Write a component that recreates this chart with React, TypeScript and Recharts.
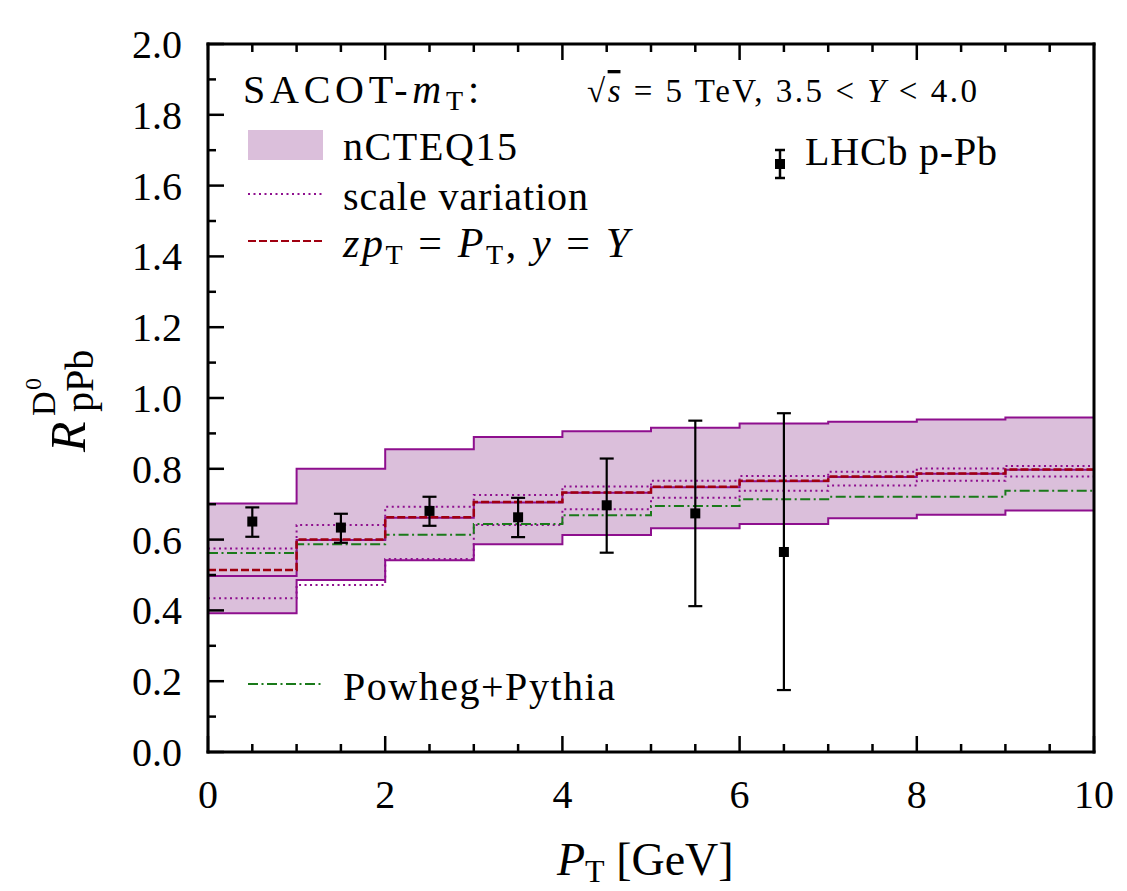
import React from 'react';
import { ComposedChart, Area, Line, Scatter, ErrorBar, XAxis, YAxis } from 'recharts';

// bin edges in P_T (GeV); each value below holds for [edge, edge+1)
const binEdges = [0, 1, 2, 3, 4, 5, 6, 7, 8, 9, 10];
const bandLow = [0.392, 0.486, 0.542, 0.587, 0.613, 0.632, 0.644, 0.66, 0.67, 0.682];
const bandHigh = [0.702, 0.8, 0.855, 0.89, 0.906, 0.916, 0.928, 0.933, 0.939, 0.945];
const central = [0.497, 0.599, 0.662, 0.705, 0.732, 0.748, 0.765, 0.777, 0.786, 0.797];
const fixedScale = [0.514, 0.6, 0.663, 0.706, 0.733, 0.749, 0.766, 0.778, 0.787, 0.798];
const scaleUp = [0.575, 0.641, 0.693, 0.726, 0.75, 0.766, 0.78, 0.792, 0.801, 0.808];
const scaleDown = [0.434, 0.472, 0.545, 0.641, 0.686, 0.718, 0.738, 0.753, 0.766, 0.778];
const powheg = [0.562, 0.587, 0.614, 0.644, 0.669, 0.695, 0.714, 0.721, 0.721, 0.738];

// LHCb p-Pb points
const lhcbX = [0.5, 1.5, 2.5, 3.5, 4.5, 5.5, 6.5];
const lhcbY = [0.651, 0.634, 0.681, 0.663, 0.697, 0.674, 0.565];
const lhcbUp = [0.691, 0.673, 0.721, 0.718, 0.829, 0.936, 0.957];
const lhcbDown = [0.608, 0.591, 0.639, 0.607, 0.563, 0.412, 0.175];

const xTicks = [0, 0.5, 1, 1.5, 2, 2.5, 3, 3.5, 4, 4.5, 5, 5.5, 6, 6.5, 7, 7.5, 8, 8.5, 9, 9.5, 10];
const yTicks = [0, 0.1, 0.2, 0.3, 0.4, 0.5, 0.6, 0.7, 0.8, 0.9, 1.0, 1.1, 1.2, 1.3, 1.4, 1.5, 1.6, 1.7, 1.8, 1.9, 2.0];

const last = bandLow.length - 1;
const stepRows = binEdges.map((x, i) => {
  const j = Math.min(i, last);
  return {
    x,
    band: [bandLow[j], bandHigh[j]],
    central: central[j],
    fixedScale: fixedScale[j],
    scaleUp: scaleUp[j],
    scaleDown: scaleDown[j],
    powheg: powheg[j],
  };
});

const lhcbRows = lhcbX.map((x, i) => ({
  x,
  y: lhcbY[i],
  err: [lhcbY[i] - lhcbDown[i], lhcbUp[i] - lhcbY[i]],
}));

const FONT = "'Liberation Serif', 'DejaVu Serif', serif";
const PURPLE = '#8e0f8e';
const BAND = '#dbbfdb';
const RED = '#a00010';
const GREEN = '#1a7a1a';

const isMajorX = (v: number) => Math.abs(v / 2 - Math.round(v / 2)) < 1e-6;
const isMajorY = (v: number) => Math.abs(v * 5 - Math.round(v * 5)) < 1e-6;

const BottomTick = (props: any) => {
  const { x, y, payload } = props;
  const v = payload.value;
  const major = isMajorX(v);
  return (
    <g>
      <line x1={x} x2={x} y1={y} y2={y - (major ? 16 : 8)} stroke="#000" strokeWidth={2.5} />
      {major && (
        <text x={x} y={y + 56} textAnchor="middle" style={{ fontFamily: FONT, fontSize: 40 }} fill="#000">
          {v}
        </text>
      )}
    </g>
  );
};

const TopTick = (props: any) => {
  const { x, y, payload } = props;
  const major = isMajorX(payload.value);
  return <line x1={x} x2={x} y1={y} y2={y + (major ? 16 : 8)} stroke="#000" strokeWidth={2.5} />;
};

const LeftTick = (props: any) => {
  const { x, y, payload } = props;
  const v = payload.value;
  const major = isMajorY(v);
  return (
    <g>
      <line x1={x} x2={x + (major ? 16 : 8)} y1={y} y2={y} stroke="#000" strokeWidth={2.5} />
      {major && (
        <text x={x - 26} y={y + 14} textAnchor="end" style={{ fontFamily: FONT, fontSize: 40 }} fill="#000">
          {v.toFixed(1)}
        </text>
      )}
    </g>
  );
};

const RightTick = (props: any) => {
  const { x, y, payload } = props;
  const major = isMajorY(payload.value);
  return <line x1={x} x2={x - (major ? 16 : 8)} y1={y} y2={y} stroke="#000" strokeWidth={2.5} />;
};

const Square = (p: any) => <rect x={p.cx - 5} y={p.cy - 5} width={10} height={10} fill="#000" />;

const axisLine = { stroke: '#000', strokeWidth: 3, strokeLinecap: 'square' as const };

export default function App() {
  return (
    <div style={{ position: 'relative', width: 1111, height: 875, fontFamily: FONT }}>
      <ComposedChart
        width={1111}
        height={875}
        data={stepRows}
        margin={{ top: 35, right: 24, bottom: 51, left: 80 }}
      >
        <XAxis
          dataKey="x"
          type="number"
          domain={[0, 10]}
          ticks={xTicks}
          interval={0}
          height={80}
          tickSize={0}
          tickMargin={0}
          tickLine={false}
          axisLine={axisLine}
          tick={<BottomTick />}
        />
        <XAxis
          xAxisId="top"
          orientation="top"
          dataKey="x"
          type="number"
          domain={[0, 10]}
          ticks={xTicks}
          interval={0}
          height={1}
          tickSize={0}
          tickMargin={0}
          tickLine={false}
          axisLine={axisLine}
          tick={<TopTick />}
        />
        <YAxis
          type="number"
          domain={[0, 2]}
          ticks={yTicks}
          interval={0}
          width={120}
          tickSize={0}
          tickMargin={0}
          tickLine={false}
          axisLine={axisLine}
          tick={<LeftTick />}
        />
        <YAxis
          yAxisId="right"
          orientation="right"
          type="number"
          domain={[0, 2]}
          ticks={yTicks}
          interval={0}
          width={1}
          tickSize={0}
          tickMargin={0}
          tickLine={false}
          axisLine={axisLine}
          tick={<RightTick />}
        />
        <Area
          type="stepAfter"
          dataKey="band"
          stroke={PURPLE}
          strokeWidth={2}
          fill={BAND}
          fillOpacity={1}
          isAnimationActive={false}
          activeDot={false}
        />
        <Line type="stepAfter" dataKey="scaleUp" stroke={PURPLE} strokeWidth={2} strokeDasharray="2 3.5" dot={false} isAnimationActive={false} />
        <Line type="stepAfter" dataKey="scaleDown" stroke={PURPLE} strokeWidth={2} strokeDasharray="2 3.5" dot={false} isAnimationActive={false} />
        <Line type="stepAfter" dataKey="powheg" stroke={GREEN} strokeWidth={2} strokeDasharray="10 3.5 2 3.5" dot={false} isAnimationActive={false} />
        <Line type="stepAfter" dataKey="central" stroke={PURPLE} strokeWidth={2} dot={false} isAnimationActive={false} />
        <Line type="stepAfter" dataKey="fixedScale" stroke={RED} strokeWidth={2.5} strokeDasharray="8 3" dot={false} isAnimationActive={false} />
        <Scatter data={lhcbRows} dataKey="y" shape={<Square />} isAnimationActive={false}>
          <ErrorBar dataKey="err" direction="y" width={7} stroke="#000" strokeWidth={2.2} isAnimationActive={false} />
        </Scatter>
      </ComposedChart>

      <svg
        width={1111}
        height={883}
        style={{ position: 'absolute', left: 0, top: 0, overflow: 'visible', pointerEvents: 'none', fontFamily: FONT }}
        fill="#000"
      >
        {/* legend, upper left */}
        <text x={235} y={95} fontSize={40} textLength={236} lengthAdjust="spacing">
          SACOT-<tspan fontStyle="italic">m</tspan>
          <tspan fontSize={28} dy={7}>T</tspan>
          <tspan dy={-7}>:</tspan>
        </text>
        <rect x={240} y={122} width={75} height={30} fill={BAND} />
        <text x={335} y={152} fontSize={40} textLength={174} lengthAdjust="spacing">nCTEQ15</text>
        <line x1={240} x2={315} y1={186} y2={186} stroke={PURPLE} strokeWidth={2} strokeDasharray="2 3.5" />
        <text x={335} y={202} fontSize={40} textLength={245} lengthAdjust="spacing">scale variation</text>
        <line x1={240} x2={315} y1={233} y2={233} stroke={RED} strokeWidth={2} strokeDasharray="8 3" />
        <text x={335} y={249} fontSize={42} textLength={286} lengthAdjust="spacing">
          <tspan fontStyle="italic">zp</tspan>
          <tspan fontSize={28} dy={7}>T</tspan>
          <tspan dy={-7}> = </tspan>
          <tspan fontStyle="italic">P</tspan>
          <tspan fontSize={28} dy={7}>T</tspan>
          <tspan dy={-7}>, </tspan>
          <tspan fontStyle="italic">y</tspan>
          <tspan> = </tspan>
          <tspan fontStyle="italic">Y</tspan>
        </text>
        <line x1={240} x2={315} y1={676} y2={676} stroke={GREEN} strokeWidth={2} strokeDasharray="10 3.5 2 3.5" />
        <text x={335} y={692} fontSize={40} textLength={272} lengthAdjust="spacing">Powheg+Pythia</text>

        {/* upper right */}
        <text x={579} y={94} fontSize={33} textLength={390} lengthAdjust="spacing">
          √<tspan textDecoration="overline" fontStyle="italic">s</tspan> = 5 TeV, 3.5 &lt; <tspan fontStyle="italic">Y</tspan> &lt; 4.0
        </text>
        <line x1={772} x2={772} y1={142} y2={170} stroke="#000" strokeWidth={2.5} />
        <line x1={767} x2={777} y1={142} y2={142} stroke="#000" strokeWidth={2.5} />
        <line x1={767} x2={777} y1={170} y2={170} stroke="#000" strokeWidth={2.5} />
        <rect x={767} y={151} width={10} height={10} fill="#000" />
        <text x={797} y={157} fontSize={40} textLength={192} lengthAdjust="spacing">LHCb p-Pb</text>

        {/* x axis title */}
        <text x={549} y={867} fontSize={46}>
          <tspan fontStyle="italic">P</tspan>
          <tspan fontSize={32} dy={7}>T</tspan>
          <tspan dy={-7}> [GeV]</tspan>
        </text>

        {/* y axis title */}
        <g transform="translate(77, 444) rotate(-90)">
          <text x={0} y={0} fontSize={50} fontStyle="italic">R</text>
          <text x={36} y={-30} fontSize={34}>D</text>
          <text x={62} y={-44} fontSize={24}>0</text>
          <text x={40} y={8} fontSize={40}>pPb</text>
        </g>
      </svg>
    </div>
  );
}
